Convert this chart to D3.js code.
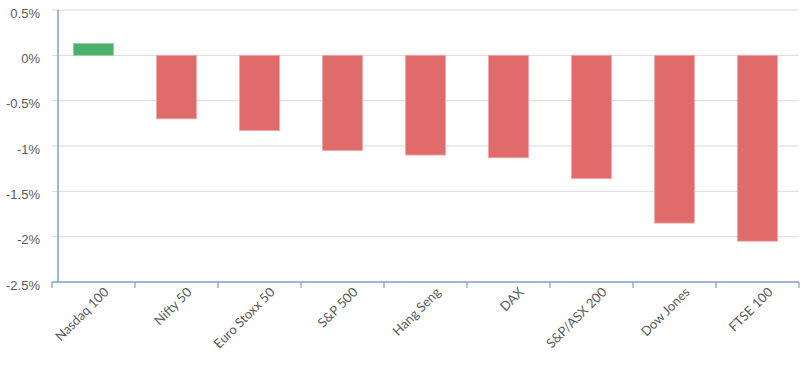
<!DOCTYPE html>
<html><head><meta charset="utf-8">
<script src="https://cdn.jsdelivr.net/npm/d3@7"></script>
<style>body{margin:0;background:#fff}svg{display:block}</style>
</head><body>
<svg id="c" width="811" height="377"></svg>
<script>
const categories = ["Nasdaq 100","Nifty 50","Euro Stoxx 50","S&P 500","Hang Seng","DAX","S&P/ASX 200","Dow Jones","FTSE 100"];
const values = [0.13,-0.70,-0.83,-1.05,-1.10,-1.13,-1.36,-1.85,-2.05];
const yTicks = [0.5,0,-0.5,-1,-1.5,-2,-2.5];
const yTickLabels = ["0.5%","0%","-0.5%","-1%","-1.5%","-2%","-2.5%"];

const svg = d3.select("#c");
const mLeft = 52, mRight = 799, mTop = 10, mBottom = 282, yAxisX = 58;
const x = d3.scaleBand().domain(categories).range([mLeft, mRight]).paddingInner(0).paddingOuter(0);
const y = d3.scaleLinear().domain([-2.5, 0.5]).range([mBottom, mTop]);

// gridlines
svg.append("g").selectAll("line").data(yTicks.filter(t => t > -2.5)).join("line")
  .attr("x1", mLeft).attr("x2", mRight)
  .attr("y1", d => y(d)).attr("y2", d => y(d))
  .attr("stroke", "#d9d9d9").attr("stroke-width", 1);

// y labels
svg.append("g").selectAll("text").data(yTicks).join("text")
  .attr("x", 40).attr("y", d => y(d) + 3)
  .attr("dy", "0.35em").attr("text-anchor", "end")
  .attr("font-family", "Liberation Sans, Arial, sans-serif").attr("font-size", 13)
  .attr("fill", "#595959")
  .text((d, i) => yTickLabels[i]);

// bars
svg.append("g").selectAll("rect").data(values).join("rect")
  .attr("x", (d, i) => x(categories[i]) + x.bandwidth() / 2 - 20)
  .attr("width", 40)
  .attr("y", d => y(Math.max(0, d)))
  .attr("height", d => Math.abs(y(d) - y(0)))
  .attr("fill", d => d >= 0 ? "#4caf6b" : "#e06b6b")
  .attr("stroke", d => d >= 0 ? "#8fd0a2" : "#f2a8a8")
  .attr("stroke-width", 0.8);

// y axis line
svg.append("line").attr("x1", yAxisX).attr("x2", yAxisX).attr("y1", mTop).attr("y2", mBottom)
  .attr("stroke", "#7f9fcc").attr("stroke-width", 1.5);

// x axis
const xa = svg.append("g").attr("transform", `translate(0,${mBottom})`);
xa.append("line").attr("x1", mLeft).attr("x2", mRight).attr("stroke", "#7f9fcc").attr("stroke-width", 1.5);
const bounds = categories.map(c => x(c)).concat([mRight]);
xa.selectAll("line.tk").data(bounds).join("line").attr("class", "tk")
  .attr("x1", d => d).attr("x2", d => d).attr("y1", 0).attr("y2", 6)
  .attr("stroke", "#7f9fcc").attr("stroke-width", 1.2);
xa.selectAll("text").data(categories).join("text")
  .attr("transform", d => `translate(${x(d) + x.bandwidth() / 2 + 16},${11}) rotate(-45)`)
  .attr("text-anchor", "end")
  .attr("font-family", "Lato, Open Sans, sans-serif").attr("font-size", 13)
  .attr("fill", "#595959")
  .text(d => d);
</script>
</body></html>
